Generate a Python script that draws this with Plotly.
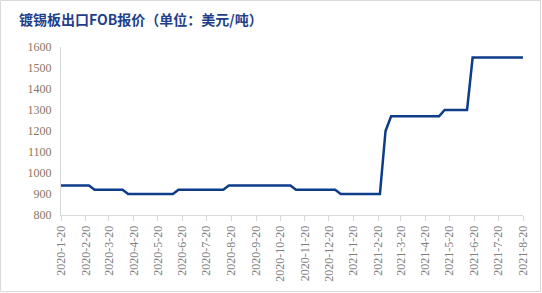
import plotly.graph_objects as go

# Change points of the weekly FOB quote series (date, USD/ton)
dates = ["2020-01-20", "2020-02-24", "2020-03-02", "2020-04-06", "2020-04-13",
         "2020-06-08", "2020-06-15", "2020-08-10", "2020-08-17", "2020-11-02",
         "2020-11-09", "2020-12-28", "2021-01-04", "2021-02-22", "2021-03-01",
         "2021-03-08", "2021-05-07", "2021-05-14", "2021-06-11", "2021-06-18",
         "2021-08-20"]
prices = [940, 940, 920, 920, 900,
          900, 920, 920, 940, 940,
          920, 920, 900, 900, 1200,
          1270, 1270, 1300, 1300, 1550,
          1550]

tick_dates = ["2020-01-20", "2020-02-20", "2020-03-20", "2020-04-20", "2020-05-20",
              "2020-06-20", "2020-07-20", "2020-08-20", "2020-09-20", "2020-10-20",
              "2020-11-20", "2020-12-20", "2021-01-20", "2021-02-20", "2021-03-20",
              "2021-04-20", "2021-05-20", "2021-06-20", "2021-07-20", "2021-08-20"]
tick_labels = ["2020-1-20", "2020-2-20", "2020-3-20", "2020-4-20", "2020-5-20",
               "2020-6-20", "2020-7-20", "2020-8-20", "2020-9-20", "2020-10-20",
               "2020-11-20", "2020-12-20", "2021-1-20", "2021-2-20", "2021-3-20",
               "2021-4-20", "2021-5-20", "2021-6-20", "2021-7-20", "2021-8-20"]
y_ticks = [800, 900, 1000, 1100, 1200, 1300, 1400, 1500, 1600]

title = "镀锡板出口FOB报价（单位：美元/吨）"

fig = go.Figure()
fig.add_trace(go.Scatter(
    x=dates, y=prices, mode="lines",
    line=dict(color="#0D3C8A", width=2.5),
    showlegend=False, hoverinfo="skip",
))

L, R, T, B = 61, 19, 47, 78
W, H = 542, 293
pw, ph = W - L - R, H - T - B

def px_x(p):
    return (p - L) / pw

def px_y(p):
    return (H - B - p) / ph

fig.update_layout(
    width=W, height=H,
    margin=dict(l=L, r=R, t=T, b=B),
    paper_bgcolor="white", plot_bgcolor="white",
    annotations=[dict(
        text="<b>" + title + "</b>", x=px_x(17), y=px_y(19.5),
        xref="paper", yref="paper", xanchor="left", yanchor="middle",
        showarrow=False,
        font=dict(family="Noto Sans CJK SC", size=14, color="#1F3F8C"),
    )],
    shapes=[dict(
        type="rect", xref="paper", yref="paper",
        x0=px_x(0.5), x1=px_x(540.5), y0=px_y(291.5), y1=px_y(0.5),
        line=dict(color="#D9D9D9", width=1), fillcolor="rgba(0,0,0,0)",
        layer="below",
    )],
    xaxis=dict(
        type="date", range=["2020-01-20", "2021-08-20"],
        tickvals=tick_dates, ticktext=tick_labels, tickangle=-90,
        showgrid=False, zeroline=False,
        showline=True, linecolor="#D9D9D9", linewidth=1,
        ticks="outside", ticklen=5, tickcolor="#D9D9D9", tickwidth=1,
        tickfont=dict(family="Liberation Serif", size=12, color="#7F7F7F"),
    ),
    yaxis=dict(
        range=[800, 1600], tickvals=y_ticks,
        showgrid=False, zeroline=False,
        showline=True, linecolor="#D9D9D9", linewidth=1,
        ticks="", ticklabelstandoff=6,
        tickfont=dict(family="Liberation Serif", size=12, color="#8B7560"),
    ),
)

fig.write_html("out.html")
